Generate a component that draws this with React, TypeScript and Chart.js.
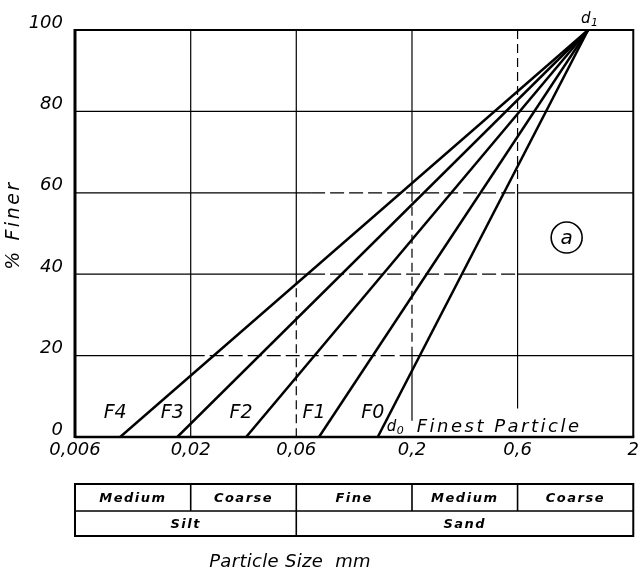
import React, { useEffect, useRef } from "react";
import { Chart, registerables } from "chart.js";

Chart.register(...registerables);

// ---- data ----
const seriesNames = ["F4", "F3", "F2", "F1", "F0"];
const startSizes = [0.0096, 0.0174, 0.0356, 0.076, 0.14]; // mm at 0 % finer
const startPercent = 0;
const d1Size = 1.25; // mm, common point at 100 % finer
const d1Percent = 100;
const xTickValues = [0.006, 0.02, 0.06, 0.2, 0.6, 2];
const xTickLabels = ["0,006", "0,02", "0,06", "0,2", "0,6", "2"];
const yTickValues = [0, 20, 40, 60, 80, 100];
const row1Bounds = [0.006, 0.02, 0.06, 0.2, 0.6, 2];
const row1Labels = ["Medium", "Coarse", "Fine", "Medium", "Coarse"];
const row2Bounds = [0.006, 0.06, 2];
const row2Labels = ["Silt", "Sand"];
const markerLabel = "a";
const markerSize = 1.0;
const markerPercent = 49;

const FAM = "'DejaVu Sans'";
const INK = "#000";

type Seg = [number, number, boolean]; // from, to, dashed
const vGrid: { v: number; segs: Seg[] }[] = [
  { v: 0.02, segs: [[0, 100, false]] },
  { v: 0.06, segs: [[40, 100, false], [0, 40, true]] },
  { v: 0.2, segs: [[60, 100, false], [20, 60, true], [4, 20, false]] },
  { v: 0.6, segs: [[60, 100, true], [7, 60, false]] },
];
const hGrid: { v: number; segs: Seg[] }[] = [
  { v: 80, segs: [[0.006, 2, false]] },
  { v: 60, segs: [[0.006, 0.07, false], [0.07, 0.6, true], [0.6, 2, false]] },
  { v: 40, segs: [[0.006, 0.07, false], [0.07, 0.6, true], [0.6, 2, false]] },
  { v: 20, segs: [[0.006, 0.02, false], [0.02, 0.2, true], [0.2, 2, false]] },
];

function text(
  ctx: CanvasRenderingContext2D,
  s: string,
  x: number,
  y: number,
  font: string,
  align: CanvasTextAlign = "left",
  baseline: CanvasTextBaseline = "alphabetic",
  spacing = "0px"
) {
  ctx.save();
  ctx.font = font;
  ctx.textAlign = align;
  ctx.textBaseline = baseline;
  (ctx as any).letterSpacing = spacing;
  ctx.fillStyle = INK;
  ctx.fillText(s, x, y);
  ctx.restore();
}

const decorPlugin = {
  id: "decor",
  beforeDatasetsDraw(chart: any) {
    const { ctx, scales } = chart;
    const xs = scales.x;
    const ys = scales.y;
    ctx.save();
    ctx.strokeStyle = INK;
    ctx.lineWidth = 1.2;
    for (const g of vGrid) {
      const px = xs.getPixelForValue(g.v);
      for (const [a, b, dashed] of g.segs) {
        ctx.setLineDash(dashed ? [9, 5] : []);
        ctx.beginPath();
        ctx.moveTo(px, ys.getPixelForValue(b));
        ctx.lineTo(px, ys.getPixelForValue(a));
        ctx.stroke();
      }
    }
    for (const g of hGrid) {
      const py = ys.getPixelForValue(g.v);
      for (const [a, b, dashed] of g.segs) {
        ctx.setLineDash(dashed ? [14, 5] : []);
        ctx.beginPath();
        ctx.moveTo(xs.getPixelForValue(a), py);
        ctx.lineTo(xs.getPixelForValue(b), py);
        ctx.stroke();
      }
    }
    ctx.restore();
  },
  afterDraw(chart: any) {
    const { ctx, scales, chartArea } = chart;
    const xs = scales.x;
    const ys = scales.y;
    const { left, right, top, bottom } = chartArea;

    // frame
    ctx.save();
    ctx.strokeStyle = INK;
    ctx.setLineDash([]);
    ctx.lineWidth = 2;
    ctx.beginPath();
    ctx.moveTo(left, top);
    ctx.lineTo(right, top);
    ctx.lineTo(right, bottom);
    ctx.stroke();
    ctx.lineWidth = 2.5;
    ctx.beginPath();
    ctx.moveTo(left, bottom);
    ctx.lineTo(right + 1, bottom);
    ctx.stroke();
    ctx.lineWidth = 3;
    ctx.beginPath();
    ctx.moveTo(left, top - 1);
    ctx.lineTo(left, bottom + 1);
    ctx.stroke();
    ctx.restore();

    // series labels
    const labelY = ys.getPixelForValue(6);
    seriesNames.forEach((n, i) => {
      const px = xs.getPixelForValue(startSizes[i]) - 5;
      text(ctx, n, px, labelY, `italic 19px ${FAM}`, "center", "middle");
    });

    // d0 + Finest Particle
    const d0x = xs.getPixelForValue(startSizes[startSizes.length - 1]) + 9;
    const d0y = ys.getPixelForValue(1.5);
    text(ctx, "d", d0x, d0y, `italic 15px ${FAM}`);
    text(ctx, "0", d0x + 10, d0y + 3, `italic 11px ${FAM}`);
    text(ctx, "Finest Particle", d0x + 30, d0y + 1, `italic 18px ${FAM}`, "left", "alphabetic", "2.5px");

    // d1
    const d1x = xs.getPixelForValue(d1Size) - 7;
    const d1y = top - 7;
    text(ctx, "d", d1x, d1y, `italic 15px ${FAM}`);
    text(ctx, "1", d1x + 10, d1y + 3, `italic 11px ${FAM}`);

    // circled marker
    const cx = xs.getPixelForValue(markerSize);
    const cy = ys.getPixelForValue(markerPercent);
    ctx.save();
    ctx.strokeStyle = INK;
    ctx.lineWidth = 1.6;
    ctx.beginPath();
    ctx.arc(cx, cy, 15.5, 0, Math.PI * 2);
    ctx.stroke();
    ctx.restore();
    text(ctx, markerLabel, cx, cy + 1, `italic 20px ${FAM}`, "center", "middle");

    // y title
    ctx.save();
    ctx.translate(14, 225);
    ctx.rotate(-Math.PI / 2);
    text(ctx, "% Finer", 0, 0, `italic 19px ${FAM}`, "center", "middle", "2.5px");
    ctx.restore();

    // fraction table
    const tTop = bottom + 47;
    const tMid = bottom + 74;
    const tBot = bottom + 99;
    const tl = xs.getPixelForValue(row1Bounds[0]);
    const tr = xs.getPixelForValue(row1Bounds[row1Bounds.length - 1]);
    ctx.save();
    ctx.strokeStyle = INK;
    ctx.lineWidth = 2;
    ctx.strokeRect(tl, tTop, tr - tl, tBot - tTop);
    ctx.lineWidth = 1.6;
    ctx.beginPath();
    ctx.moveTo(tl, tMid);
    ctx.lineTo(tr, tMid);
    for (let i = 1; i < row1Bounds.length - 1; i++) {
      const px = xs.getPixelForValue(row1Bounds[i]);
      ctx.moveTo(px, tTop);
      ctx.lineTo(px, tMid);
    }
    for (let i = 1; i < row2Bounds.length - 1; i++) {
      const px = xs.getPixelForValue(row2Bounds[i]);
      ctx.moveTo(px, tMid);
      ctx.lineTo(px, tBot);
    }
    ctx.stroke();
    ctx.restore();
    const cellFont = `italic bold 13px ${FAM}`;
    row1Labels.forEach((l, i) => {
      const a = xs.getPixelForValue(row1Bounds[i]);
      const b = xs.getPixelForValue(row1Bounds[i + 1]);
      text(ctx, l, (a + b) / 2, (tTop + tMid) / 2 + 1, cellFont, "center", "middle", "1.5px");
    });
    row2Labels.forEach((l, i) => {
      const a = xs.getPixelForValue(row2Bounds[i]);
      const b = xs.getPixelForValue(row2Bounds[i + 1]);
      text(ctx, l, (a + b) / 2, (tMid + tBot) / 2 + 1, cellFont, "center", "middle", "1.5px");
    });

    // x title
    text(ctx, "Particle Size  mm", 290, 567, `italic 18px ${FAM}`, "center", "alphabetic", "0.3px");
  },
};

export default function App() {
  const ref = useRef<HTMLCanvasElement | null>(null);
  useEffect(() => {
    if (!ref.current) return;
    const datasets = seriesNames.map((n, i) => ({
      label: n,
      data: [
        { x: startSizes[i], y: startPercent },
        { x: d1Size, y: d1Percent },
      ],
      borderColor: INK,
      borderWidth: 2.5,
      pointRadius: 0,
      fill: false,
      tension: 0,
    }));
    const tickFont = { family: "DejaVu Sans", size: 18, style: "italic" as const };
    const chart = new Chart(ref.current, {
      type: "line",
      data: { datasets },
      plugins: [decorPlugin],
      options: {
        animation: false,
        responsive: false,
        layout: { padding: { left: 0, top: 30, right: 6, bottom: 103 } },
        plugins: { legend: { display: false }, tooltip: { enabled: false } },
        scales: {
          x: {
            type: "logarithmic",
            min: xTickValues[0],
            max: xTickValues[xTickValues.length - 1],
            afterBuildTicks: (s: any) => {
              s.ticks = xTickValues.map((v) => ({ value: v }));
            },
            afterFit: (s: any) => {
              s.height = 30;
            },
            ticks: {
              autoSkip: false,
              maxRotation: 0,
              minRotation: 0,
              padding: 3,
              color: INK,
              font: tickFont,
              callback: (_v: any, i: number) => xTickLabels[i],
            },
            grid: { display: false, drawTicks: false },
            border: { display: false },
          },
          y: {
            type: "linear",
            min: 0,
            max: 100,
            afterBuildTicks: (s: any) => {
              s.ticks = yTickValues.map((v) => ({ value: v }));
            },
            afterFit: (s: any) => {
              s.width = 75;
            },
            ticks: {
              padding: 12,
              labelOffset: -7,
              color: INK,
              font: tickFont,
              callback: (v: any) => String(v),
            },
            grid: { display: false, drawTicks: false },
            border: { display: false },
          },
        },
      } as any,
    });
    return () => chart.destroy();
  }, []);
  return (
    <div style={{ position: "absolute", left: 0, top: 0, width: 642, height: 570, background: "#fff" }}>
      <canvas ref={ref} width={642} height={570} style={{ display: "block", width: 642, height: 570 }} />
    </div>
  );
}
